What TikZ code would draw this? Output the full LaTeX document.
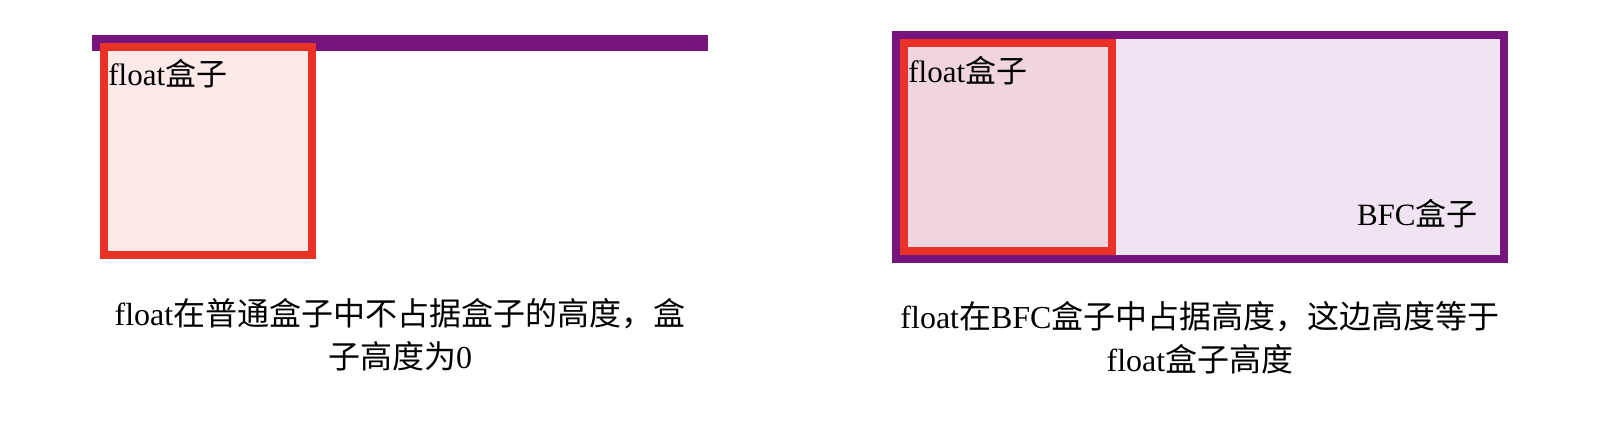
\documentclass[tikz,border=0pt]{standalone}
\usepackage{fontspec}
\setmainfont{Liberation Serif}
\newfontfamily\cjk{Noto Sans CJK SC}
\newcommand\zh[1]{{\cjk #1}}
\definecolor{bfcpurple}{RGB}{120,21,124}
\definecolor{floatred}{RGB}{233,50,38}
\definecolor{floatpink}{RGB}{253,233,232}
\definecolor{floatrose}{RGB}{240,213,221}
\definecolor{bfclilac}{RGB}{241,228,242}
\tikzset{
	boxtext/.style={inner sep=0pt, font=\fontsize{15.5}{21.5}\selectfont},
	caption/.style={inner sep=0pt, font=\fontsize{16}{21.5}\selectfont, align=center, anchor=base},
	floatbox/.style={draw=floatred, line width=4pt},
	bfcbox/.style={draw=bfcpurple, line width=4pt, fill=bfclilac}
}

\begin{document}
\begin{tikzpicture}[x=0.5pt,y=-0.5pt]
			\useasboundingbox (0,0) rectangle (1600,430);
			\path
			(92,35) coordinate (P1)
			(708,51) coordinate (P2)
			(104,47) coordinate (F1)
			(312,255) coordinate (F2)
			(896,35) coordinate (B1)
			(1504,259) coordinate (B2)
			(904,43) coordinate (G1)
			(1112,251) coordinate (G2)
			;
			\fill[bfcpurple] (P1) rectangle (P2);
			\draw[floatbox, fill=floatpink] (F1) rectangle (F2);
			\draw[bfcbox] (B1) rectangle (B2);
			\draw[floatbox, fill=floatrose] (G1) rectangle (G2);
			\node[boxtext, anchor=base west] (floatL) at (108,85) {float\zh{盒子}};
			\node[boxtext, anchor=base west] (floatR) at (908,82) {float\zh{盒子}};
			\node[boxtext, anchor=base east] (bfc) at (1478,225) {BFC\zh{盒子}};
			\node[caption] (capL) at (400,368) {float\zh{在普通盒子中不占据盒子的高度，盒}\\\zh{子高度为}0};
			\node[caption] (capR) at (1200,371) {float\zh{在}BFC\zh{盒子中占据高度，这边高度等于}\\float\zh{盒子高度}};
		\end{tikzpicture}
\end{document}
